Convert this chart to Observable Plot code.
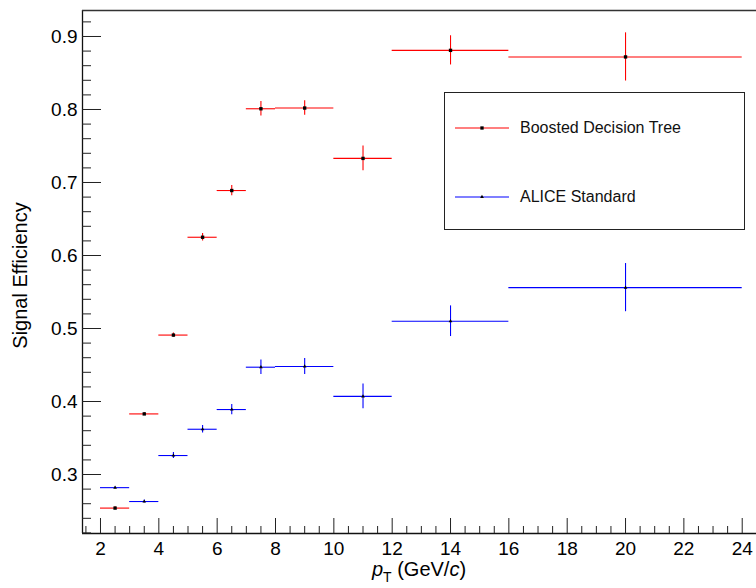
<!DOCTYPE html>
<html>
<head>
<meta charset="utf-8">
<script src="https://cdn.jsdelivr.net/npm/d3@7"></script>
<script src="https://cdn.jsdelivr.net/npm/@observablehq/plot@0.6"></script>
<style>
  html, body { margin: 0; padding: 0; background: white; }
  #wrap { position: relative; width: 756px; height: 588px; font-family: "Liberation Sans", Arial, Helvetica, sans-serif; }
  #legend { position: absolute; left: 444px; top: 92px; width: 301px; height: 138px; border: 1px solid #222; background: white; box-sizing: border-box; }
  .entry { position: absolute; left: 10px; height: 20px; display: flex; align-items: center; font-size: 16px; color: #111; }
  .entry svg { margin-right: 11px; }
</style>
</head>
<body>
<div id="wrap"></div>
<script>
// ---- data ----
const binLo = [2, 3, 4, 5, 6, 7, 8, 10, 12, 16];
const binHi = [3, 4, 5, 6, 7, 8, 10, 12, 16, 24];
const bdtEff = [0.254, 0.383, 0.491, 0.625, 0.689, 0.801, 0.802, 0.733, 0.881, 0.872];
const bdtErr = [0.002, 0.002, 0.003, 0.005, 0.007, 0.010, 0.010, 0.017, 0.020, 0.033];
const aliceEff = [0.282, 0.263, 0.326, 0.362, 0.389, 0.447, 0.448, 0.407, 0.510, 0.556];
const aliceErr = [0.001, 0.002, 0.004, 0.005, 0.007, 0.010, 0.011, 0.017, 0.021, 0.033];
const seriesNames = ["Boosted Decision Tree", "ALICE Standard"];
const xMajor = [2, 4, 6, 8, 10, 12, 14, 16, 18, 20, 22, 24];
const yMajor = [0.3, 0.4, 0.5, 0.6, 0.7, 0.8, 0.9];
const xDomain = [1.383, 24.49];
const yDomain = [0.2192, 0.9356];

const xMinor = d3.range(1.5, 24.6, 0.5).filter(v => v % 2 !== 0);
const yMinor = d3.range(22, 94, 2).map(v => v / 100).filter(v => Math.round(v * 100) % 10 !== 0);

function rows(eff, err) {
  return binLo.map((lo, i) => ({ lo, hi: binHi[i], c: (lo + binHi[i]) / 2, v: eff[i], e: err[i] }));
}
const bdt = rows(bdtEff, bdtErr);
const alice = rows(aliceEff, aliceErr);

const W = 756, H = 588, mL = 82, mR = 0, mT = 10, mB = 55;
const innerW = W - mL - mR, innerH = H - mT - mB;
const font = '"Liberation Sans", Arial, Helvetica, sans-serif';

function series(data, color, symbol, r) {
  return [
    Plot.ruleY(data, { y: "v", x1: "lo", x2: "hi", stroke: color, strokeWidth: 1.1 }),
    Plot.ruleX(data, { x: "c", y1: d => d.v - d.e, y2: d => d.v + d.e, stroke: color, strokeWidth: 1.1 }),
    Plot.dot(data, { x: "c", y: "v", symbol, r, fill: "black", stroke: "none" })
  ];
}

const plot = Plot.plot({
  width: W, height: H,
  marginLeft: mL, marginRight: mR, marginTop: mT, marginBottom: mB,
  x: { domain: xDomain, label: null },
  y: { domain: yDomain, label: null },
  style: { fontFamily: font, fontSize: "19px", background: "white", color: "black", overflow: "visible" },
  marks: [
    ...series(alice, "#0000ff", "triangle", 1.35),
    ...series(bdt, "#ff0000", "square", 1.9),
    // frame
    Plot.ruleX([xDomain[0]], { stroke: "#111", strokeWidth: 1.3 }),
    Plot.ruleY([yDomain[0]], { stroke: "#111", strokeWidth: 1.3 }),
    Plot.ruleY([yDomain[1]], { stroke: "#333", strokeWidth: 1.3 }),
    // ticks (drawn inward, ROOT style)
    Plot.tickY(yMajor, { y: d => d, insetRight: innerW - 19, stroke: "#222" }),
    Plot.tickY(yMinor, { y: d => d, insetRight: innerW - 9, stroke: "#222" }),
    Plot.tickX(xMajor, { x: d => d, insetTop: innerH - 15, stroke: "#222" }),
    Plot.tickX(xMinor, { x: d => d, insetTop: innerH - 7, stroke: "#222" }),
    Plot.axisY(yMajor, { tickSize: 0, tickPadding: 5, tickFormat: d3.format(".1f"), fontSize: 19, label: null }),
    Plot.axisX(xMajor, { tickSize: 0, tickPadding: 8, tickFormat: d => String(d), fontSize: 19, label: null })
  ]
});

const wrap = document.getElementById("wrap");
wrap.appendChild(plot);

// axis titles
const svg = d3.select(plot);
const xs = plot.scale("x"), ys = plot.scale("y");
const xc = (xs.range[0] + xs.range[1]) / 2;
const yc = (ys.range[0] + ys.range[1]) / 2 + 4;
const xt = svg.append("text")
  .attr("x", xc).attr("y", H - 12)
  .attr("text-anchor", "middle")
  .attr("font-family", font).attr("font-size", 20).attr("fill", "black");
xt.append("tspan").attr("font-style", "italic").text("p");
xt.append("tspan").attr("font-size", 14).attr("dy", 6).text("T");
xt.append("tspan").attr("dy", -6).text(" (GeV/");
xt.append("tspan").attr("font-style", "italic").text("c");
xt.append("tspan").text(")");

svg.append("text")
  .attr("transform", `translate(27,${yc}) rotate(-90)`)
  .attr("text-anchor", "middle")
  .attr("font-family", font).attr("font-size", 20).attr("fill", "black")
  .text("Signal Efficiency");

// legend
const legend = document.createElement("div");
legend.id = "legend";
const colors = ["#ff0000", "#0000ff"];
const tops = [25, 94];
seriesNames.forEach((name, i) => {
  const e = document.createElement("div");
  e.className = "entry";
  e.style.top = tops[i] + "px";
  const s = d3.create("svg").attr("width", 54).attr("height", 20);
  s.append("line").attr("x1", 0).attr("x2", 54).attr("y1", 10).attr("y2", 10).attr("stroke", colors[i]).attr("stroke-width", 1.1);
  s.append("path").attr("transform", "translate(27,10)")
    .attr("d", d3.symbol(i === 0 ? d3.symbolSquare : d3.symbolTriangle, i === 0 ? 11 : 6)()).attr("fill", "black");
  e.appendChild(s.node());
  const t = document.createElement("span");
  t.textContent = name;
  e.appendChild(t);
  legend.appendChild(e);
});
wrap.appendChild(legend);
</script>
</body>
</html>
